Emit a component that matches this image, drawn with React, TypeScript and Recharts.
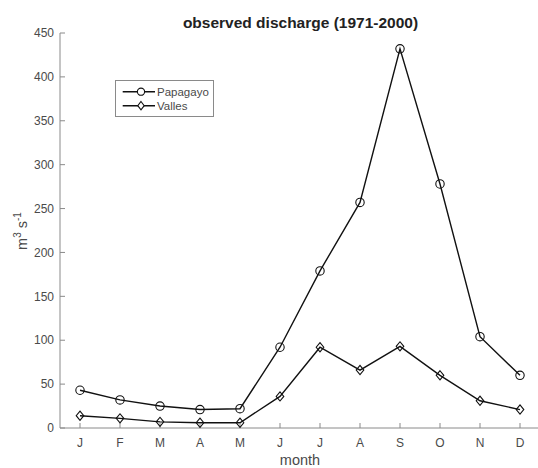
import React from "react";
import { LineChart, Line, XAxis, YAxis, Legend } from "recharts";

const months = ["J", "F", "M", "A", "M", "J", "J", "A", "S", "O", "N", "D"];
const papagayo = [43, 32, 25, 21, 22, 92, 179, 257, 432, 278, 104, 60];
const valles = [14, 11, 7, 6, 6, 36, 92, 66, 93, 60, 31, 21];
const yTicks = [0, 50, 100, 150, 200, 250, 300, 350, 400, 450];
const xTicks = months.map((_, i) => i + 1);

const data = months.map((m, i) => ({
  m: i + 1,
  papagayo: papagayo[i],
  valles: valles[i],
}));

const FONT = "'Liberation Sans', Arial, Helvetica, sans-serif";
const AXIS = "#8a8a8a";
const TEXT = "#4a4a4a";

const CircleDot = (props: any) => {
  const { cx, cy } = props;
  if (cx == null || cy == null) return null;
  return <circle cx={cx} cy={cy} r={4.2} fill="none" stroke="#111" strokeWidth={1.1} />;
};

const DiamondDot = (props: any) => {
  const { cx, cy } = props;
  if (cx == null || cy == null) return null;
  const h = 4.6;
  const w = 3.8;
  return (
    <path
      d={`M${cx},${cy - h}L${cx + w},${cy}L${cx},${cy + h}L${cx - w},${cy}Z`}
      fill="none"
      stroke="#111"
      strokeWidth={1.1}
    />
  );
};

const LegendBox = () => (
  <svg width={99} height={37} style={{ display: "block" }}>
    <rect x={0.5} y={0.5} width={98} height={36} fill="#fff" stroke={AXIS} />
    <line x1={7.7} x2={40} y1={11.7} y2={11.7} stroke="#111" strokeWidth={1.4} />
    <circle cx={26} cy={11.7} r={3.6} fill="#fff" stroke="#111" strokeWidth={1.1} />
    <text x={42} y={11.7} dy="0.35em" fontSize={11.5} fill={TEXT} fontFamily={FONT}>
      Papagayo
    </text>
    <line x1={7.7} x2={40} y1={25.7} y2={25.7} stroke="#111" strokeWidth={1.4} />
    <path d="M26,21.5L29.2,25.7L26,29.9L22.8,25.7Z" fill="#fff" stroke="#111" strokeWidth={1.1} />
    <text x={42} y={25.7} dy="0.35em" fontSize={11.5} fill={TEXT} fontFamily={FONT}>
      Valles
    </text>
  </svg>
);

export default function App() {
  const tickStyle = { fontSize: 12, fill: TEXT, fontFamily: FONT };
  return (
    <div style={{ position: "absolute", left: 0, top: 0, width: 538, height: 468, background: "#fff" }}>
      <LineChart
        width={538}
        height={468}
        data={data}
        margin={{ top: 33, right: -2, bottom: 0, left: 0 }}
      >
        <text
          x={300.5}
          y={23}
          dy="0.35em"
          textAnchor="middle"
          fontSize={15.5}
          fontWeight="bold"
          fill="#222"
          fontFamily={FONT}
        >
          observed discharge (1971-2000)
        </text>
        <text
          x={0}
          y={0}
          transform="translate(27,231) rotate(-90)"
          textAnchor="middle"
          fontSize={14.5}
          fill={TEXT}
          fontFamily={FONT}
        >
          m<tspan fontSize={10} dy={-6}>3</tspan>
          <tspan dy={6}> s</tspan>
          <tspan fontSize={10} dy={-6}>-1</tspan>
        </text>
        <text
          x={300}
          y={460}
          dy="0.35em"
          textAnchor="middle"
          fontSize={14.5}
          fill={TEXT}
          fontFamily={FONT}
        >
          month
        </text>
        <XAxis
          xAxisId="bottom"
          dataKey="m"
          type="number"
          domain={[0.5, 12.5]}
          ticks={xTicks}
          tickFormatter={(v: number) => months[v - 1]}
          height={40}
          tickSize={-5}
          tickMargin={15}
          stroke={AXIS}
          tick={tickStyle}
          interval={0}
        />
        <XAxis
          xAxisId="top"
          orientation="top"
          dataKey="m"
          type="number"
          domain={[0.5, 12.5]}
          ticks={xTicks}
          height={0}
          tickSize={-5}
          tick={false}
          stroke={AXIS}
        />
        <YAxis
          yAxisId="left"
          type="number"
          domain={[0, 450]}
          ticks={yTicks}
          width={60}
          tickSize={-5}
          tickMargin={11}
          stroke={AXIS}
          tick={tickStyle}
          interval={0}
        />
        <YAxis
          yAxisId="right"
          orientation="right"
          type="number"
          domain={[0, 450]}
          ticks={yTicks}
          width={0}
          tickSize={-5}
          tick={false}
          stroke={AXIS}
        />
        <Legend
          layout="vertical"
          align="center"
          verticalAlign="middle"
          content={() => <LegendBox />}
          wrapperStyle={{ position: "absolute", left: 115, top: 80, width: 99, height: 37 }}
        />
        <Line
          xAxisId="bottom"
          yAxisId="left"
          dataKey="papagayo"
          name="Papagayo"
          stroke="#111"
          strokeWidth={1.4}
          dot={<CircleDot />}
          activeDot={false}
          isAnimationActive={false}
        />
        <Line
          xAxisId="bottom"
          yAxisId="left"
          dataKey="valles"
          name="Valles"
          stroke="#111"
          strokeWidth={1.4}
          dot={<DiamondDot />}
          activeDot={false}
          isAnimationActive={false}
        />
      </LineChart>
    </div>
  );
}
